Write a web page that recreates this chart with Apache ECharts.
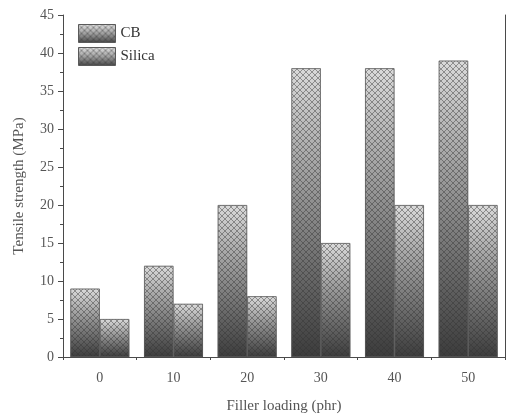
<!DOCTYPE html>
<html>
<head>
<meta charset="utf-8">
<script src="https://cdn.jsdelivr.net/npm/echarts@6/dist/echarts.min.js"></script>
<style>
  html, body { margin: 0; padding: 0; background: #fff; }
  #main { width: 506px; height: 415px; }
</style>
</head>
<body>
<div id="main"></div>
<script>
const categories = ['0', '10', '20', '30', '40', '50']
const cbValues = [9, 12, 20, 38, 38, 39]
const silicaValues = [5, 7, 8, 15, 20, 20]
const seriesNames = ['CB', 'Silica']

const serif = 'Liberation Serif'
const axisColor = '#4a4a4a'
const textColor = '#555'
const hatchStroke = 'rgba(50,50,50,0.45)'

function drawHatch(ctx, w, h) {
  ctx.strokeStyle = hatchStroke
  ctx.lineWidth = 1
  ctx.beginPath()
  for (let k = -h; k < w + h; k += 6) {
    ctx.moveTo(k, 0); ctx.lineTo(k + h, h)
    ctx.moveTo(k + h, 0); ctx.lineTo(k, h)
  }
  ctx.stroke()
}

// cross hatch tile, repeated over the bars
function hatchCanvas() {
  const c = document.createElement('canvas')
  c.width = 6
  c.height = 6
  const ctx = c.getContext('2d')
  ctx.strokeStyle = hatchStroke
  ctx.lineWidth = 1
  ctx.beginPath()
  ctx.moveTo(-1, -1); ctx.lineTo(7, 7)
  ctx.moveTo(7, -1); ctx.lineTo(-1, 7)
  ctx.stroke()
  return c
}
// legend swatch: gradient + hatch in one small picture
function swatchCanvas() {
  const c = document.createElement('canvas')
  c.width = 37
  c.height = 18
  const ctx = c.getContext('2d')
  const g = ctx.createLinearGradient(0, 0, 0, 18)
  g.addColorStop(0, '#e0e0e0')
  g.addColorStop(0.5, '#a0a0a0')
  g.addColorStop(1, '#4a4a4a')
  ctx.fillStyle = g
  ctx.fillRect(0, 0, 37, 18)
  drawHatch(ctx, 37, 18)
  return c
}
const hatch = { image: hatchCanvas(), repeat: 'repeat' }
const swatch = { image: swatchCanvas(), repeat: 'repeat' }

const fade = new echarts.graphic.LinearGradient(0, 0, 0, 1, [
  { offset: 0, color: '#dadada' },
  { offset: 0.5, color: '#8a8a8a' },
  { offset: 1, color: '#3c3c3c' }
])

function baseBar(name, data) {
  return {
    name: name,
    type: 'bar',
    xAxisIndex: 0,
    data: data,
    barGap: 0,
    barCategoryGap: '20%',
    itemStyle: { color: fade },
    emphasis: { disabled: true }
  }
}
function hatchBar(data) {
  return {
    type: 'bar',
    xAxisIndex: 1,
    data: data,
    barGap: 0,
    barCategoryGap: '20%',
    silent: true,
    itemStyle: { color: hatch, borderColor: '#5a5a5a', borderWidth: 0.8 },
    emphasis: { disabled: true }
  }
}

const chart = echarts.init(document.getElementById('main'))
chart.setOption({
  animation: false,
  grid: { left: 63, right: 1, top: 15, bottom: 58, outerBoundsMode: 'none' },
  legend: {
    data: seriesNames.map(n => ({
      name: n,
      itemStyle: { color: swatch, borderColor: '#5a5a5a', borderWidth: 1 }
    })),
    orient: 'vertical',
    left: 78,
    top: 24,
    padding: 0,
    itemWidth: 37,
    itemHeight: 18,
    itemGap: 4,
    icon: 'rect',
    selectedMode: false,
    textStyle: { fontFamily: serif, fontSize: 15, color: '#333' }
  },
  xAxis: [
    {
      type: 'category',
      data: categories,
      position: 'bottom',
      name: 'Filler loading (phr)',
      nameLocation: 'middle',
      nameGap: 42,
      nameTextStyle: { fontFamily: serif, fontSize: 15, color: textColor },
      axisLine: { lineStyle: { color: axisColor } },
      axisTick: { alignWithLabel: true, length: 5, lineStyle: { color: axisColor } },
      axisLabel: { fontFamily: serif, fontSize: 14, color: textColor, margin: 14 },
      splitLine: { show: false }
    },
    {
      type: 'category',
      data: categories,
      position: 'top',
      axisLine: { lineStyle: { color: axisColor } },
      axisTick: { show: false },
      axisLabel: { show: false },
      splitLine: { show: false }
    },
    {
      type: 'category',
      data: categories,
      position: 'bottom',
      axisLine: { show: false },
      axisTick: { show: true, length: 3, lineStyle: { color: axisColor } },
      axisLabel: { show: false },
      splitLine: { show: false }
    }
  ],
  yAxis: [
    {
      type: 'value',
      min: 0,
      max: 45,
      interval: 5,
      name: 'Tensile strength (MPa)',
      nameLocation: 'middle',
      nameGap: 36,
      nameTextStyle: { fontFamily: serif, fontSize: 15, color: textColor },
      axisLine: { show: true, lineStyle: { color: axisColor } },
      axisTick: { show: true, length: 5, lineStyle: { color: axisColor } },
      minorTick: { show: true, splitNumber: 2, length: 3, lineStyle: { color: axisColor } },
      axisLabel: { fontFamily: serif, fontSize: 14, color: textColor, margin: 9 },
      splitLine: { show: false }
    },
    {
      type: 'value',
      min: 0,
      max: 45,
      interval: 5,
      position: 'right',
      axisLine: { show: true, lineStyle: { color: axisColor } },
      axisTick: { show: false },
      axisLabel: { show: false },
      splitLine: { show: false }
    }
  ],
  series: [
    baseBar(seriesNames[0], cbValues),
    baseBar(seriesNames[1], silicaValues),
    hatchBar(cbValues),
    hatchBar(silicaValues)
  ]
})
</script>
</body>
</html>
